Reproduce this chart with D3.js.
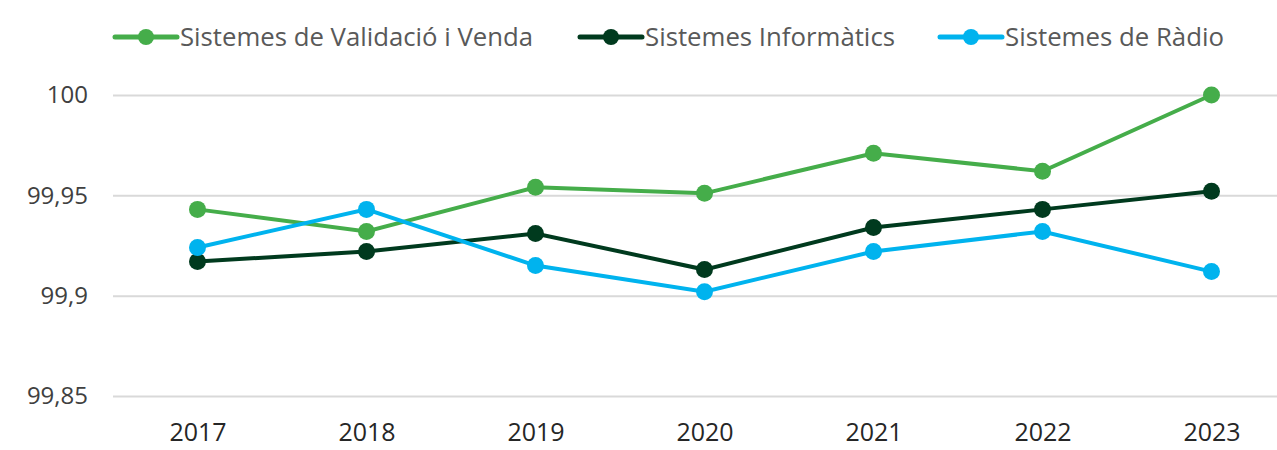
<!DOCTYPE html>
<html lang="ca">
<head>
    <meta charset="UTF-8">
    <title>Disponibilitat dels sistemes</title>
    <script src="https://cdn.jsdelivr.net/npm/d3@7"></script>
    <style>
        body { margin: 0; background: #fff; }
        svg { display: block; }
        svg text { font-family: "Open Sans", sans-serif; }
        .tick text { fill: #404040; font-size: 24px; }
        .x-axis .tick text { fill: #262626; font-size: 25px; }
        .legend text { fill: #595959; font-size: 26px; }
    </style>
</head>
<body>
<svg width="1277" height="450"></svg>
<script>
    var years = ['2017', '2018', '2019', '2020', '2021', '2022', '2023'];
    var yTicks = [99.85, 99.9, 99.95, 100];
    var seriesNames = ['Sistemes de Validació i Venda', 'Sistemes Informàtics', 'Sistemes de Ràdio'];
    var validacio = [99.943, 99.932, 99.954, 99.951, 99.971, 99.962, 100];
    var informatics = [99.917, 99.922, 99.931, 99.913, 99.934, 99.943, 99.952];
    var radio = [99.924, 99.943, 99.915, 99.902, 99.922, 99.932, 99.912];
    var colors = ['#45ad4a', '#003a1e', '#00b3ee'];

    var series = [validacio, informatics, radio];

    var svg = d3.select('svg');

    var x = d3.scalePoint()
        .domain(years)
        .range([113, 1296])
        .padding(0.5);

    var y = d3.scaleLinear()
        .domain([99.85, 100])
        .range([396, 95]);

    // gridlines + y labels
    var yAxis = svg.append('g')
        .attr('transform', 'translate(113,0)')
        .call(d3.axisLeft(y)
            .tickValues(yTicks)
            .tickSize(-1190)
            .tickPadding(25)
            .tickFormat(function (d) { return String(+d.toFixed(2)).replace('.', ','); }));
    yAxis.select('.domain').remove();
    yAxis.selectAll('.tick line').attr('stroke', '#d9d9d9').attr('stroke-width', 2);

    var xAxis = svg.append('g')
        .attr('class', 'x-axis')
        .attr('transform', 'translate(0,396)')
        .call(d3.axisBottom(x).tickSize(0).tickPadding(27));
    xAxis.select('.domain').remove();

    var line = d3.line()
        .x(function (d, i) { return x(years[i]); })
        .y(function (d) { return y(d); });

    series.forEach(function (s, k) {
        var g = svg.append('g');
        g.append('path')
            .datum(s)
            .attr('d', line)
            .attr('fill', 'none')
            .attr('stroke', colors[k])
            .attr('stroke-width', 4);
        g.selectAll('circle')
            .data(s)
            .enter().append('circle')
            .attr('cx', function (d, i) { return x(years[i]); })
            .attr('cy', function (d) { return y(d); })
            .attr('r', 8.5)
            .attr('fill', colors[k]);
    });

    // legend
    var legendX = [115, 580, 940];
    var legendW = [353, 250, 219];
    var legend = svg.append('g').attr('class', 'legend');
    seriesNames.forEach(function (name, k) {
        var item = legend.append('g').attr('transform', 'translate(' + legendX[k] + ',37)');
        item.append('line')
            .attr('x1', 0).attr('x2', 62)
            .attr('stroke', colors[k])
            .attr('stroke-width', 5)
            .attr('stroke-linecap', 'round');
        item.append('circle')
            .attr('cx', 31)
            .attr('r', 8)
            .attr('fill', colors[k]);
        item.append('text')
            .attr('x', 65)
            .attr('y', 9)
            .attr('textLength', legendW[k])
            .attr('lengthAdjust', 'spacingAndGlyphs')
            .text(name);
    });
</script>
</body>
</html>
